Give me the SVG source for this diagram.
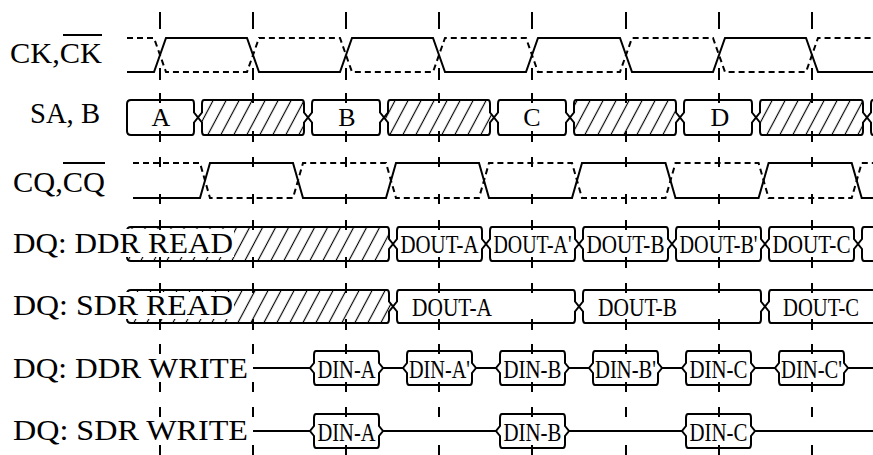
<svg xmlns="http://www.w3.org/2000/svg" width="873" height="455" viewBox="0 0 873 455">
<style>
.s{stroke:#000;stroke-width:2;fill:none}
.d{stroke:#000;stroke-width:2;fill:none;stroke-dasharray:6 4}
.b{stroke:#000;stroke-width:2;fill:#fff}
.h{stroke:#000;stroke-width:2;fill:url(#hatch)}
.tk{stroke:#000;stroke-width:2;fill:none}
.lbl{font-family:"Liberation Serif",serif;font-size:30px;fill:#000}
.bt{font-family:"Liberation Serif",serif;font-size:26px;fill:#000}
</style>
<defs>
<pattern id="hatch" width="13" height="10" patternUnits="userSpaceOnUse" patternTransform="skewX(-28)">
<rect width="13" height="10" fill="#fff"/>
<line x1="6.5" y1="-1" x2="6.5" y2="11" stroke="#000" stroke-width="1.3"/>
</pattern>
</defs>
<rect width="873" height="455" fill="#fff"/>

<g id="ck">
<text class="lbl" x="10" y="63" textLength="92" lengthAdjust="spacingAndGlyphs">CK,CK</text>
<line class="s" x1="63" y1="35" x2="102" y2="35"/>
<path class="s" d="M127,72 H154 L166,38 H247 L259,72 H340 L352,38 H433 L445,72 H526 L538,38 H620 L632,72 H713 L725,38 H806 L818,72 H873"/>
<path class="d" d="M127,38 H154 L166,72 H247 L259,38 H340 L352,72 H433 L445,38 H526 L538,72 H620 L632,38 H713 L725,72 H806 L818,38 H873"/>
</g>

<g id="sa">
<text class="lbl" x="30" y="123" textLength="70" lengthAdjust="spacingAndGlyphs">SA, B</text>
<path class="b" d="M131,100 H192 Q194,100 194,104 V112.5 L198,117.5 L194,122.5 V131 Q194,135 192,135 H131 Q127,135 127,131 V104 Q127,100 131,100 Z"/>
<path class="h" d="M204,100 H302 Q304,100 304,104 V112.5 L308,117.5 L304,122.5 V131 Q304,135 302,135 H204 Q202,135 202,131 V122.5 L198,117.5 L202,112.5 V104 Q202,100 204,100 Z"/>
<path class="b" d="M314,100 H378 Q380,100 380,104 V112.5 L384,117.5 L380,122.5 V131 Q380,135 378,135 H314 Q312,135 312,131 V122.5 L308,117.5 L312,112.5 V104 Q312,100 314,100 Z"/>
<path class="h" d="M390,100 H488 Q490,100 490,104 V112.5 L494,117.5 L490,122.5 V131 Q490,135 488,135 H390 Q388,135 388,131 V122.5 L384,117.5 L388,112.5 V104 Q388,100 390,100 Z"/>
<path class="b" d="M500,100 H564 Q566,100 566,104 V112.5 L570,117.5 L566,122.5 V131 Q566,135 564,135 H500 Q498,135 498,131 V122.5 L494,117.5 L498,112.5 V104 Q498,100 500,100 Z"/>
<path class="h" d="M576,100 H674 Q676,100 676,104 V112.5 L680,117.5 L676,122.5 V131 Q676,135 674,135 H576 Q574,135 574,131 V122.5 L570,117.5 L574,112.5 V104 Q574,100 576,100 Z"/>
<path class="b" d="M686,100 H750 Q752,100 752,104 V112.5 L756,117.5 L752,122.5 V131 Q752,135 750,135 H686 Q684,135 684,131 V122.5 L680,117.5 L684,112.5 V104 Q684,100 686,100 Z"/>
<path class="h" d="M762,100 H861 Q863,100 863,104 V112.5 L867,117.5 L863,122.5 V131 Q863,135 861,135 H762 Q760,135 760,131 V122.5 L756,117.5 L760,112.5 V104 Q760,100 762,100 Z"/>
<path class="s" d="M880,100 H873 Q871,100 871,104 V112.5 L867,117.5 L871,122.5 V131 Q871,135 873,135 H880"/>
<text class="bt" x="161" y="126" text-anchor="middle" font-size="25">A</text>
<text class="bt" x="347" y="126" text-anchor="middle" font-size="25">B</text>
<text class="bt" x="532" y="126" text-anchor="middle" font-size="25">C</text>
<text class="bt" x="720" y="126" text-anchor="middle" font-size="25">D</text>
</g>

<g id="cq">
<text class="lbl" x="13" y="192" textLength="92" lengthAdjust="spacingAndGlyphs">CQ,CQ</text>
<line class="s" x1="63" y1="163" x2="105" y2="163"/>
<path class="s" d="M133,198 H200 L210,163 H293 L303,198 H386 L396,163 H479 L489,198 H572 L582,163 H665.5 L675.5,198 H758.6 L768.6,163 H851.7 L861.7,198 H873"/>
<path class="d" d="M133,163 H200 L210,198 H293 L303,163 H386 L396,198 H479 L489,163 H572 L582,198 H665.5 L675.5,163 H758.6 L768.6,198 H851.7 L861.7,163 H873"/>
</g>

<g id="dq-ddr-read">
<path class="h" d="M131,227 H387 Q389,227 389,231 V239 L393,244 L389,249 V257 Q389,261 387,261 H131 Q127,261 127,257 V231 Q127,227 131,227 Z"/>
<rect x="126" y="229" width="108" height="28" fill="#fff"/>
<text class="lbl" x="13" y="253" textLength="220" lengthAdjust="spacingAndGlyphs">DQ: DDR READ</text>
<path class="b" d="M399,227 H480 Q482,227 482,231 V239 L486,244 L482,249 V257 Q482,261 480,261 H399 Q397,261 397,257 V249 L393,244 L397,239 V231 Q397,227 399,227 Z"/>
<path class="b" d="M492,227 H573 Q575,227 575,231 V239 L579,244 L575,249 V257 Q575,261 573,261 H492 Q490,261 490,257 V249 L486,244 L490,239 V231 Q490,227 492,227 Z"/>
<path class="b" d="M585,227 H666 Q668,227 668,231 V239 L672,244 L668,249 V257 Q668,261 666,261 H585 Q583,261 583,257 V249 L579,244 L583,239 V231 Q583,227 585,227 Z"/>
<path class="b" d="M678,227 H759 Q761,227 761,231 V239 L765,244 L761,249 V257 Q761,261 759,261 H678 Q676,261 676,257 V249 L672,244 L676,239 V231 Q676,227 678,227 Z"/>
<path class="b" d="M771,227 H852 Q854,227 854,231 V239 L858,244 L854,249 V257 Q854,261 852,261 H771 Q769,261 769,257 V249 L765,244 L769,239 V231 Q769,227 771,227 Z"/>
<path class="s" d="M880,227 H864 Q862,227 862,231 V239 L858,244 L862,249 V257 Q862,261 864,261 H880"/>
<text class="bt" x="400.5" y="253" textLength="78" lengthAdjust="spacingAndGlyphs">DOUT-A</text>
<text class="bt" x="493.5" y="253" textLength="78" lengthAdjust="spacingAndGlyphs">DOUT-A'</text>
<text class="bt" x="586.5" y="253" textLength="78" lengthAdjust="spacingAndGlyphs">DOUT-B</text>
<text class="bt" x="679.5" y="253" textLength="78" lengthAdjust="spacingAndGlyphs">DOUT-B'</text>
<text class="bt" x="772.5" y="253" textLength="78" lengthAdjust="spacingAndGlyphs">DOUT-C</text>
</g>

<g id="dq-sdr-read">
<path class="h" d="M131,290 H387 Q389,290 389,294 V301.5 L393,306.5 L389,311.5 V319 Q389,323 387,323 H131 Q127,323 127,319 V294 Q127,290 131,290 Z"/>
<rect x="126" y="292" width="108" height="27" fill="#fff"/>
<text class="lbl" x="13" y="315" textLength="220" lengthAdjust="spacingAndGlyphs">DQ: SDR READ</text>
<path class="b" d="M399,290 H573 Q575,290 575,294 V301.5 L579,306.5 L575,311.5 V319 Q575,323 573,323 H399 Q397,323 397,319 V311.5 L393,306.5 L397,301.5 V294 Q397,290 399,290 Z"/>
<path class="b" d="M585,290 H759 Q761,290 761,294 V301.5 L765,306.5 L761,311.5 V319 Q761,323 759,323 H585 Q583,323 583,319 V311.5 L579,306.5 L583,301.5 V294 Q583,290 585,290 Z"/>
<path class="s" d="M880,290 H771 Q769,290 769,294 V301.5 L765,306.5 L769,311.5 V319 Q769,323 771,323 H880"/>
<text class="bt" x="412" y="316" textLength="80" lengthAdjust="spacingAndGlyphs">DOUT-A</text>
<text class="bt" x="598" y="316" textLength="79" lengthAdjust="spacingAndGlyphs">DOUT-B</text>
<text class="bt" x="783" y="316" textLength="76" lengthAdjust="spacingAndGlyphs">DOUT-C</text>
</g>

<g id="dq-ddr-write">
<text class="lbl" x="13" y="378" textLength="235" lengthAdjust="spacingAndGlyphs">DQ: DDR WRITE</text>
<path class="s" d="M253,368 H310 M383,368 H403 M476,368 H496 M569,368 H589 M662,368 H682 M755,368 H775 M848,368 H873"/>
<path class="b" d="M316,351 H377 Q379,351 379,355 V363 L383,368 L379,373 V381 Q379,385 377,385 H316 Q314,385 314,381 V373 L310,368 L314,363 V355 Q314,351 316,351 Z"/>
<path class="b" d="M409,351 H470 Q472,351 472,355 V363 L476,368 L472,373 V381 Q472,385 470,385 H409 Q407,385 407,381 V373 L403,368 L407,363 V355 Q407,351 409,351 Z"/>
<path class="b" d="M502,351 H563 Q565,351 565,355 V363 L569,368 L565,373 V381 Q565,385 563,385 H502 Q500,385 500,381 V373 L496,368 L500,363 V355 Q500,351 502,351 Z"/>
<path class="b" d="M595,351 H656 Q658,351 658,355 V363 L662,368 L658,373 V381 Q658,385 656,385 H595 Q593,385 593,381 V373 L589,368 L593,363 V355 Q593,351 595,351 Z"/>
<path class="b" d="M688,351 H749 Q751,351 751,355 V363 L755,368 L751,373 V381 Q751,385 749,385 H688 Q686,385 686,381 V373 L682,368 L686,363 V355 Q686,351 688,351 Z"/>
<path class="b" d="M781,351 H842 Q844,351 844,355 V363 L848,368 L844,373 V381 Q844,385 842,385 H781 Q779,385 779,381 V373 L775,368 L779,363 V355 Q779,351 781,351 Z"/>
<text class="bt" x="317.5" y="378" textLength="58" lengthAdjust="spacingAndGlyphs">DIN-A</text>
<text class="bt" x="409" y="378" textLength="61" lengthAdjust="spacingAndGlyphs">DIN-A'</text>
<text class="bt" x="503.5" y="378" textLength="58" lengthAdjust="spacingAndGlyphs">DIN-B</text>
<text class="bt" x="595" y="378" textLength="61" lengthAdjust="spacingAndGlyphs">DIN-B'</text>
<text class="bt" x="689.5" y="378" textLength="58" lengthAdjust="spacingAndGlyphs">DIN-C</text>
<text class="bt" x="781" y="378" textLength="61" lengthAdjust="spacingAndGlyphs">DIN-C'</text>
</g>

<g id="dq-sdr-write">
<text class="lbl" x="13" y="440" textLength="235" lengthAdjust="spacingAndGlyphs">DQ: SDR WRITE</text>
<path class="s" d="M253,431 H310 M383,431 H496 M569,431 H682 M755,431 H873"/>
<path class="b" d="M316,414 H377 Q379,414 379,418 V426 L383,431 L379,436 V444 Q379,448 377,448 H316 Q314,448 314,444 V436 L310,431 L314,426 V418 Q314,414 316,414 Z"/>
<path class="b" d="M502,414 H563 Q565,414 565,418 V426 L569,431 L565,436 V444 Q565,448 563,448 H502 Q500,448 500,444 V436 L496,431 L500,426 V418 Q500,414 502,414 Z"/>
<path class="b" d="M688,414 H749 Q751,414 751,418 V426 L755,431 L751,436 V444 Q751,448 749,448 H688 Q686,448 686,444 V436 L682,431 L686,426 V418 Q686,414 688,414 Z"/>
<text class="bt" x="317.5" y="441" textLength="58" lengthAdjust="spacingAndGlyphs">DIN-A</text>
<text class="bt" x="503.5" y="441" textLength="58" lengthAdjust="spacingAndGlyphs">DIN-B</text>
<text class="bt" x="689.5" y="441" textLength="58" lengthAdjust="spacingAndGlyphs">DIN-C</text>
</g>

<g id="grid" class="tk">
<path d="M160,12 V29 M160,68 V80 M160,93 V103 M160,131 V142 M160,157 V167 M160,194 V204 M160,220 V230 M160,257 V268 M160,283 V293 M160,319 V330 M160,344 V354 M160,382 V392 M160,407 V417 M160,445 V455
M253,12 V29 M253,68 V80 M253,93 V103 M253,131 V142 M253,157 V167 M253,194 V204 M253,220 V230 M253,257 V268 M253,283 V293 M253,319 V330 M253,344 V354 M253,382 V392 M253,407 V417 M253,445 V455
M346,12 V29 M346,68 V80 M346,93 V103 M346,131 V142 M346,157 V167 M346,194 V204 M346,220 V230 M346,257 V268 M346,283 V293 M346,319 V330 M346,344 V354 M346,382 V392 M346,407 V417 M346,445 V455
M439,12 V29 M439,68 V80 M439,93 V103 M439,131 V142 M439,157 V167 M439,194 V204 M439,220 V230 M439,257 V268 M439,283 V293 M439,319 V330 M439,344 V354 M439,382 V392 M439,407 V417 M439,445 V455
M532,12 V29 M532,68 V80 M532,93 V103 M532,131 V142 M532,157 V167 M532,194 V204 M532,220 V230 M532,257 V268 M532,283 V293 M532,319 V330 M532,344 V354 M532,382 V392 M532,407 V417 M532,445 V455
M626,12 V29 M626,68 V80 M626,93 V103 M626,131 V142 M626,157 V167 M626,194 V204 M626,220 V230 M626,257 V268 M626,283 V293 M626,319 V330 M626,344 V354 M626,382 V392 M626,407 V417 M626,445 V455
M719,12 V29 M719,68 V80 M719,93 V103 M719,131 V142 M719,157 V167 M719,194 V204 M719,220 V230 M719,257 V268 M719,283 V293 M719,319 V330 M719,344 V354 M719,382 V392 M719,407 V417 M719,445 V455
M812,12 V29 M812,68 V80 M812,93 V103 M812,131 V142 M812,157 V167 M812,194 V204 M812,220 V230 M812,257 V268 M812,283 V293 M812,319 V330 M812,344 V354 M812,382 V392 M812,407 V417 M812,445 V455"/>
</g>
</svg>
